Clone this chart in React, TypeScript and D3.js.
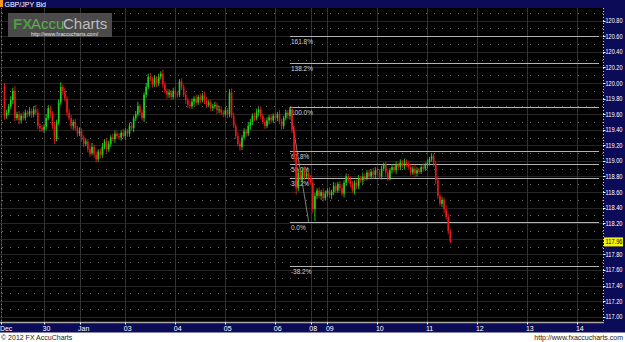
import React from 'react';
import * as d3 from 'd3';

const W = 625;
const H = 342;

const title = 'GBP/JPY Bid';
const firstOpen = 119.97;
const closes = [
  119.58,119.62,119.70,119.78,119.90,119.55,119.60,119.52,119.58,119.55,
  119.62,119.60,119.64,119.60,119.66,119.62,119.45,119.42,119.40,119.44,
  119.55,119.68,119.60,119.45,119.28,119.50,119.75,119.95,119.90,119.80,
  119.62,119.55,119.45,119.50,119.42,119.35,119.38,119.30,119.22,119.25,
  119.15,119.10,119.18,119.08,119.02,119.12,119.08,119.18,119.25,119.15,
  119.22,119.30,119.28,119.35,119.32,119.30,119.36,119.32,119.38,119.35,
  119.45,119.42,119.55,119.60,119.70,119.62,119.55,119.85,119.95,120.08,
  120.05,119.98,120.06,120.00,120.08,120.12,119.98,119.90,119.85,119.88,
  119.82,119.90,119.86,119.85,120.02,119.95,119.85,119.78,119.72,119.70,
  119.76,119.80,119.75,119.82,119.78,119.84,119.78,119.72,119.75,119.68,
  119.70,119.72,119.65,119.66,119.62,119.60,119.65,119.60,119.88,119.58,
  119.45,119.32,119.22,119.18,119.30,119.38,119.35,119.45,119.50,119.58,
  119.55,119.62,119.66,119.58,119.50,119.45,119.52,119.56,119.52,119.58,
  119.55,119.60,119.50,119.45,119.55,119.62,119.58,119.66,119.40,119.05,
  118.65,118.85,118.78,118.88,118.80,118.84,118.78,118.72,118.38,118.55,
  118.62,118.55,118.60,118.52,118.58,118.62,118.56,118.60,118.68,118.62,
  118.70,118.65,118.58,118.72,118.80,118.75,118.70,118.62,118.72,118.68,
  118.78,118.75,118.80,118.78,118.85,118.80,118.86,118.82,118.88,118.84,
  118.80,118.90,118.95,118.85,118.78,118.88,118.92,118.88,118.95,118.92,
  118.98,118.94,118.98,118.96,118.92,118.85,118.90,118.84,118.88,118.86,
  118.92,118.90,118.95,118.98,119.02,119.06,118.96,118.75,118.55,118.45,
  118.50,118.38,118.28,118.10,117.96,
];
// upper / lower wick lengths in pips
const hiWick = [
  3,4,3,5,4,6,3,4,3,5, 4,3,5,3,4,6,5,3,4,3, 5,4,3,4,5,3,4,6,3,4,
  3,5,4,3,4,3,5,4,3,4, 3,4,5,3,4,3,4,5,3,4, 4,3,5,4,3,4,3,5,4,3,
  4,5,3,4,6,3,4,3,5,4, 5,3,4,3,4,3,5,4,3,4, 3,4,5,3,3,4,3,4,3,5,
  4,3,5,3,4,3,5,4,3,4, 3,4,3,5,4,3,4,3,4,5, 4,3,5,4,3,4,3,5,4,3,
  4,5,3,4,3,5,4,3,4,3, 4,3,5,4,3,4,3,3,4,5, 6,5,4,3,5,4,3,4,5,4,
  3,4,3,5,4,3,4,3,5,4, 3,4,5,3,4,3,5,4,3,4, 4,3,5,4,3,4,3,5,4,3,
  5,4,3,4,5,3,4,3,4,3, 4,3,5,4,3,4,3,5,4,3, 4,5,3,4,3,4,3,4,5,3,
  4,3,5,4,3,
];
const loWick = [
  5,4,3,4,5,4,3,5,4,3, 3,4,3,5,4,3,4,5,3,4, 4,3,5,4,6,3,4,3,5,4,
  5,3,4,5,3,4,3,5,4,3, 4,5,3,4,4,3,5,4,3,4, 3,4,3,5,4,3,4,3,5,4,
  4,3,5,4,3,4,3,5,4,3, 3,4,3,5,4,3,4,3,5,4, 4,3,5,4,3,4,3,5,4,3,
  3,5,4,3,4,3,5,4,3,4, 4,3,5,4,3,4,3,5,4,3, 3,4,3,5,4,3,4,3,5,4,
  4,3,5,4,3,4,3,5,4,3, 3,4,3,5,4,3,4,5,4,6, 8,4,3,5,4,3,4,3,5,15,
  4,3,5,4,3,4,3,5,4,3, 3,4,3,5,4,3,4,3,5,4, 4,3,5,4,3,4,3,5,4,3,
  3,4,3,5,4,3,4,3,5,4, 4,3,5,4,3,4,3,5,4,3, 3,4,3,5,4,3,4,5,4,3,
  4,5,3,4,2,
];

const dateLabels = ['Dec', '30', 'Jan', '03', '04', '05', '06', '08', '09', '10', '11', '12', '13', '14'];
const dateIndex = [-1.5, 19, 36, 58, 82, 106, 130, 147, 155, 179, 203, 227, 251, 275];

const yTicks = [117.0, 117.2, 117.4, 117.6, 117.8, 118.0, 118.2, 118.4, 118.6, 118.8,
  119.0, 119.2, 119.4, 119.6, 119.8, 120.0, 120.2, 120.4, 120.6, 120.8];

const fibRatios = [1.618, 1.382, 1.0, 0.618, 0.5, 0.382, 0, -0.382];
const fibLabels = ['161.8%', '138.2%', '100.0%', '61.8%', '50.0%', '38.2%', '0.0%', '-38.2%'];
const fibHigh = 119.69;
const fibLow = 118.218;
const fibHighIdx = 137;
const fibLowIdx = 146;
const lastPrice = 117.96;

const FONT = 'Liberation Sans, Arial, sans-serif';

export default function App() {
  const plotRight = 603;
  const plotTop = 8;
  const plotBottom = 322.5;
  const x = d3.scaleLinear().domain([0, 288]).range([4.5, 604.5]);
  const y = d3.scaleLinear().domain([117.0, 120.8]).range([316.7, 20.7]);

  const candles = closes.map((c, i) => {
    const o = i === 0 ? firstOpen : closes[i - 1];
    const h = Math.max(o, c) + hiWick[i] / 100;
    const l = Math.min(o, c) - loWick[i] / 100;
    return { i, o, c, h, l };
  });

  const halfGrid = yTicks.slice(0, -1).map((t) => t + 0.1).concat([120.9]);
  const navy = '#0b0b58';
  const green = '#1ed41e';
  const red = '#e81818';
  const fibRange = fibHigh - fibLow;
  const fibX0 = x(fibHighIdx);
  const lastY = y(lastPrice);

  return (
    <svg width={W} height={H} style={{ position: 'absolute', left: 0, top: 0, display: 'block' }}
      fontFamily={FONT}>
      <defs>
        <clipPath id="plot">
          <rect x={0} y={plotTop} width={plotRight} height={plotBottom - plotTop} />
        </clipPath>
      </defs>
      <rect x={0} y={0} width={W} height={H} fill="#ffffff" />
      <rect x={0} y={plotTop} width={plotRight} height={plotBottom - plotTop} fill="#000000" />

      <g clipPath="url(#plot)">
        {yTicks.map((t) => (
          <line key={'hs' + t} x1={0} x2={plotRight} y1={Math.round(y(t)) + 0.5} y2={Math.round(y(t)) + 0.5}
            stroke="#262626" strokeWidth={1} />
        ))}
        {halfGrid.map((t) => (
          <line key={'hd' + t} x1={2} x2={plotRight} y1={Math.round(y(t)) + 0.5} y2={Math.round(y(t)) + 0.5}
            stroke="#6a6a6a" strokeWidth={1} strokeDasharray="1 7" />
        ))}
        {dateIndex.map((d, k) => (
          <line key={'v' + k} x1={Math.round(x(d)) + 0.5} x2={Math.round(x(d)) + 0.5} y1={plotTop} y2={plotBottom}
            stroke="#333333" strokeWidth={1} />
        ))}
        <line x1={1.5} x2={1.5} y1={plotTop} y2={plotBottom} stroke="#777" strokeDasharray="1 3" />

        {fibRatios.map((r, k) => {
          const yy = Math.round(y(fibLow + r * fibRange)) + 0.5;
          return (
            <g key={'f' + k}>
              <line x1={fibX0} x2={plotRight - 4} y1={yy} y2={yy} stroke="#b4b4b4" strokeWidth={1} />
              <text x={fibX0 + 1} y={yy + 7.5} fontSize={6.5} fill="#d4d4d4">{fibLabels[k]}</text>
            </g>
          );
        })}
        <line x1={x(fibHighIdx)} y1={y(fibHigh)} x2={x(fibLowIdx)} y2={y(fibLow)} stroke="#9a9a9a" strokeWidth={0.8} />

        {candles.map((d) => {
          const col = d.c >= d.o ? green : red;
          const cx = x(d.i);
          const top = y(Math.max(d.o, d.c));
          const bot = y(Math.min(d.o, d.c));
          return (
            <g key={'c' + d.i}>
              <line x1={cx} x2={cx} y1={y(d.h)} y2={y(d.l)} stroke={col} strokeWidth={0.9} />
              <rect x={cx - 0.8} y={top} width={1.6} height={Math.max(1, bot - top)} fill={col} />
            </g>
          );
        })}
      </g>

      {/* watermark */}
      <rect x={8} y={13} width={104} height={24} fill="#575757" opacity={0.85} />
      <text x={13} y={29} fontSize={15} fontWeight="bold" fill="#4f9a43">FX</text>
      <text x={31} y={29} fontSize={15} fill="#5fae4f">Accu</text>
      <text x={63} y={29} fontSize={15} fill="#bdbdbd">Charts</text>
      <text x={31} y={35.5} fontSize={5.2} fill="#e8e8e8">http://www.fxaccucharts.com/</text>

      {/* header */}
      <rect x={0} y={0} width={W} height={plotTop} fill={navy} />
      <rect x={0} y={0} width={3} height={7} fill="#f39a1c" />
      <text x={4.5} y={6.5} fontSize={7} fill="#ffffff">{title}</text>

      {/* right axis */}
      <rect x={plotRight} y={plotTop} width={W - plotRight} height={plotBottom - plotTop + 10} fill={navy} />
      <line x1={plotRight + 0.5} x2={plotRight + 0.5} y1={plotTop} y2={plotBottom} stroke="#d0d0d0" strokeDasharray="1 2" />
      {yTicks.filter((t) => Math.abs(y(t) - lastY) > 6).map((t) => (
        <g key={'yt' + t}>
          <line x1={plotRight} x2={plotRight + 2.5} y1={Math.round(y(t)) + 0.5} y2={Math.round(y(t)) + 0.5} stroke="#ffffff" />
          <text x={plotRight + 2.5} y={y(t) + 2.5} fontSize={6.5} fill="#ffffff"
            textLength={17} lengthAdjust="spacingAndGlyphs">{t.toFixed(2)}</text>
        </g>
      ))}
      <rect x={plotRight + 1} y={lastY - 4.5} width={19} height={9} fill="#f5f50a" />
      <text x={plotRight + 2.5} y={lastY + 2.5} fontSize={6.5} fill="#000000"
        textLength={17} lengthAdjust="spacingAndGlyphs">{lastPrice.toFixed(2)}</text>

      {/* bottom axis */}
      <rect x={0} y={plotBottom} width={plotRight} height={10} fill={navy} />
      <line x1={0} x2={plotRight + 1} y1={plotBottom} y2={plotBottom} stroke="#a8a8a8" strokeWidth={1.5} />
      {dateLabels.map((lab, k) => (
        <g key={'xt' + k}>
          <line x1={Math.round(x(dateIndex[k])) + 0.5} x2={Math.round(x(dateIndex[k])) + 0.5}
            y1={plotBottom} y2={plotBottom + 2} stroke="#ffffff" />
          <text x={x(dateIndex[k]) - 1.5} y={plotBottom + 8.5} fontSize={7} fill="#ffffff">{lab}</text>
        </g>
      ))}

      {/* footer */}
      <text x={1} y={340} fontSize={7} fill="#222">© 2012 FX AccuCharts</text>
      <text x={623} y={340} fontSize={7} fill="#222" textAnchor="end">http://www.fxaccucharts.com</text>
    </svg>
  );
}
